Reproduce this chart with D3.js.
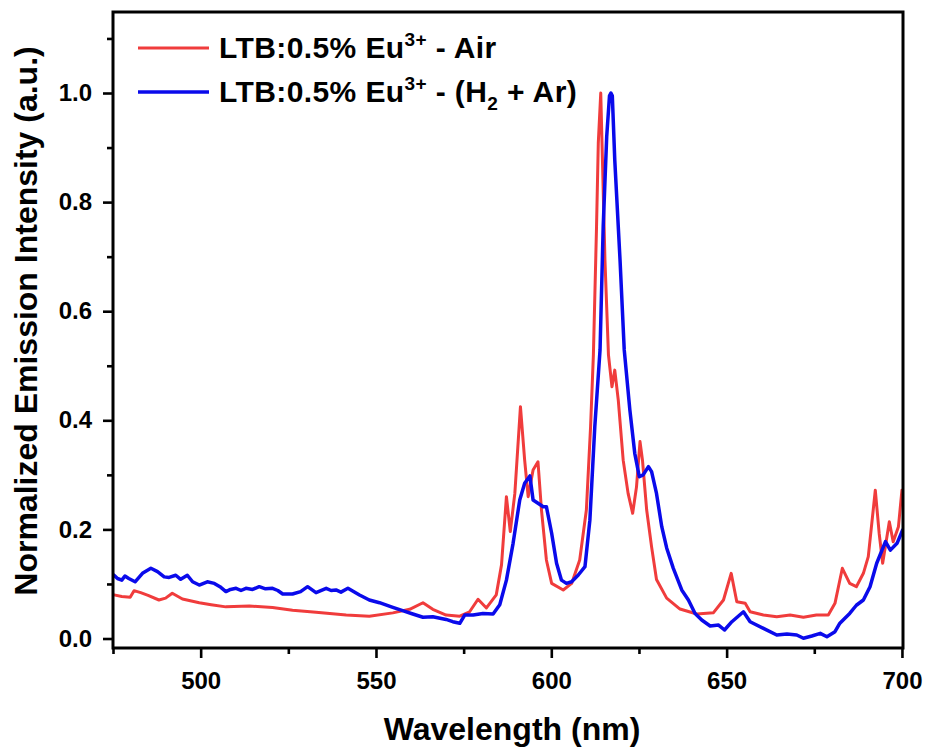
<!DOCTYPE html>
<html>
<head>
<meta charset="utf-8">
<script src="https://cdn.jsdelivr.net/npm/d3@7"></script>
<style>
  html, body { margin: 0; padding: 0; background: #ffffff; }
  svg { display: block; font-family: "Liberation Sans", Arial, sans-serif; }
</style>
</head>
<body>
<svg id="chart" width="930" height="751"></svg>
<script>
// Emission spectrum of LTB:0.5% Eu3+ annealed in air
const airWavelength = [475.3, 477.5, 479.9, 481.0, 482.9, 485.0, 488.1, 490.0, 491.9, 494.8, 499.6, 503.0, 507.2, 513.9, 520.5, 526.2, 532.9, 541.5, 548.1, 554.8, 559.6, 563.4, 566.2, 570.0, 573.9, 576.7, 579.1, 581.5, 584.3, 585.8, 587.2, 588.3, 589.6, 591.2, 592.4, 593.4, 594.8, 596.2, 597.2, 598.6, 600.1, 603.4, 605.8, 608.1, 610.0, 611.2, 612.0, 612.9, 613.4, 614.1, 615.3, 616.3, 617.3, 618.1, 619.1, 620.5, 621.9, 623.2, 624.3, 625.3, 626.0, 627.2, 628.6, 630.0, 632.9, 636.7, 641.5, 646.2, 649.1, 651.3, 652.9, 655.3, 656.7, 660.5, 664.3, 668.1, 671.9, 675.6, 679.0, 680.9, 683.0, 685.1, 687.0, 689.0, 690.4, 692.4, 693.5, 694.5, 696.4, 697.5, 699.0, 700.0];
const airIntensity = [0.080, 0.077, 0.0755, 0.0877, 0.084, 0.079, 0.0706, 0.074, 0.083, 0.0724, 0.0656, 0.062, 0.058, 0.0596, 0.057, 0.052, 0.048, 0.043, 0.041, 0.047, 0.0535, 0.0656, 0.0535, 0.043, 0.041, 0.049, 0.072, 0.056, 0.080, 0.135, 0.26, 0.196, 0.266, 0.425, 0.327, 0.26, 0.309, 0.324, 0.2355, 0.144, 0.101, 0.089, 0.101, 0.144, 0.2355, 0.388, 0.52, 0.755, 0.908, 1.0, 0.694, 0.52, 0.4615, 0.492, 0.437, 0.327, 0.266, 0.2295, 0.278, 0.361, 0.327, 0.2355, 0.168, 0.108, 0.074, 0.054, 0.045, 0.047, 0.0706, 0.1195, 0.0675, 0.0645, 0.049, 0.043, 0.040, 0.043, 0.039, 0.043, 0.043, 0.0645, 0.1287, 0.101, 0.095, 0.1195, 0.15, 0.272, 0.193, 0.138, 0.214, 0.1775, 0.205, 0.272];

// Emission spectrum of LTB:0.5% Eu3+ annealed in H2 + Ar
const h2Wavelength = [475.3, 476.3, 477.5, 478.4, 479.5, 481.3, 483.4, 485.8, 487.7, 489.6, 491.0, 492.9, 494.3, 496.2, 497.7, 499.6, 501.9, 503.9, 505.5, 507.2, 508.5, 510.1, 511.5, 512.9, 514.8, 516.7, 518.5, 520.5, 522.0, 523.4, 526.2, 528.5, 530.5, 532.9, 535.8, 537.2, 538.6, 540.0, 542.0, 545.3, 548.1, 551.0, 554.8, 557.6, 560.5, 563.4, 566.2, 570.0, 571.9, 573.9, 575.3, 577.7, 580.5, 583.4, 585.3, 587.2, 589.1, 591.0, 592.4, 593.9, 594.8, 596.2, 597.7, 598.6, 600.1, 601.5, 602.9, 604.3, 605.8, 607.7, 609.6, 611.0, 612.4, 613.9, 614.8, 615.8, 616.6, 617.0, 617.4, 618.1, 619.6, 620.8, 622.4, 623.8, 625.1, 626.2, 627.7, 628.6, 630.0, 631.5, 632.9, 634.8, 637.2, 639.1, 641.0, 642.9, 645.3, 647.7, 649.4, 651.5, 654.8, 656.7, 660.5, 664.3, 667.2, 670.0, 671.9, 674.3, 676.7, 678.6, 680.9, 682.3, 685.1, 687.0, 689.0, 690.9, 692.8, 695.3, 696.7, 698.6, 700.2];
const h2Intensity = [0.116, 0.110, 0.107, 0.1146, 0.110, 0.104, 0.1195, 0.1287, 0.1225, 0.113, 0.112, 0.116, 0.1085, 0.116, 0.104, 0.098, 0.104, 0.101, 0.095, 0.086, 0.090, 0.092, 0.088, 0.092, 0.090, 0.095, 0.091, 0.092, 0.088, 0.0816, 0.0816, 0.086, 0.095, 0.084, 0.092, 0.088, 0.089, 0.085, 0.092, 0.0797, 0.0706, 0.0656, 0.057, 0.051, 0.045, 0.039, 0.040, 0.035, 0.0308, 0.0279, 0.043, 0.043, 0.046, 0.045, 0.062, 0.107, 0.1745, 0.254, 0.2845, 0.298, 0.254, 0.248, 0.2416, 0.2416, 0.193, 0.138, 0.107, 0.101, 0.104, 0.1164, 0.1316, 0.217, 0.388, 0.529, 0.755, 0.92, 0.995, 1.0, 0.995, 0.877, 0.694, 0.529, 0.419, 0.3395, 0.2966, 0.30, 0.315, 0.306, 0.266, 0.205, 0.166, 0.1286, 0.089, 0.0706, 0.046, 0.034, 0.023, 0.0247, 0.0156, 0.0308, 0.049, 0.0308, 0.0187, 0.0064, 0.0082, 0.0064, 0.0004, 0.0046, 0.0095, 0.0033, 0.0125, 0.028, 0.046, 0.061, 0.0706, 0.095, 0.138, 0.1775, 0.162, 0.1745, 0.199];

// Axis ticks
const xMajorTicks = [500, 550, 600, 650, 700];
const xMinorTicks = [475, 525, 575, 625, 675];
const yMajorTicks = [0.0, 0.2, 0.4, 0.6, 0.8, 1.0];
const yMinorTicks = [0.1, 0.3, 0.5, 0.7, 0.9, 1.1];

const seriesColors = ["#f03c3c", "#0a0aeb"];

const svg = d3.select("#chart");
const plot = { left: 113, right: 903, top: 12, bottom: 648 };

const x = d3.scaleLinear().domain([475, 700.3]).range([plot.left, plot.right]);
const y = d3.scaleLinear().domain([-0.0174, 1.1485]).range([plot.bottom, plot.top]);

svg.append("defs").append("clipPath").attr("id", "plotClip")
  .append("rect")
  .attr("x", plot.left).attr("y", plot.top)
  .attr("width", plot.right - plot.left).attr("height", plot.bottom - plot.top);

const line = d3.line()
  .x(d => x(d[0]))
  .y(d => y(d[1]))
  .curve(d3.curveLinear);

const airData = airWavelength.map((w, i) => [w, airIntensity[i]]);
const h2Data = h2Wavelength.map((w, i) => [w, h2Intensity[i]]);

const curves = svg.append("g").attr("clip-path", "url(#plotClip)");
curves.append("path").datum(airData)
  .attr("d", line)
  .attr("fill", "none")
  .attr("stroke", seriesColors[0])
  .attr("stroke-width", 3)
  .attr("stroke-linejoin", "round")
  .attr("stroke-linecap", "round");
curves.append("path").datum(h2Data)
  .attr("d", line)
  .attr("fill", "none")
  .attr("stroke", seriesColors[1])
  .attr("stroke-width", 3.5)
  .attr("stroke-linejoin", "round")
  .attr("stroke-linecap", "round");

// Axes
function styleAxis(g) {
  g.select(".domain").remove();
  g.selectAll(".tick line").attr("stroke", "#000").attr("stroke-width", 2.6);
  g.selectAll(".tick text")
    .attr("fill", "#000")
    .style("font-size", "24px")
    .style("font-weight", "bold")
    .style("font-family", "'Liberation Sans', Arial, sans-serif");
}

svg.append("g")
  .attr("transform", `translate(0,${plot.bottom})`)
  .call(d3.axisBottom(x).tickValues(xMajorTicks).tickSize(10).tickPadding(14).tickFormat(d3.format("d")))
  .call(styleAxis);
svg.append("g")
  .attr("transform", `translate(0,${plot.bottom})`)
  .call(d3.axisBottom(x).tickValues(xMinorTicks).tickSize(6).tickFormat(""))
  .call(styleAxis);

svg.append("g")
  .attr("transform", `translate(${plot.left},0)`)
  .call(d3.axisLeft(y).tickValues(yMajorTicks).tickSize(10).tickPadding(11).tickFormat(d3.format(".1f")))
  .call(styleAxis);
svg.append("g")
  .attr("transform", `translate(${plot.left},0)`)
  .call(d3.axisLeft(y).tickValues(yMinorTicks).tickSize(6).tickFormat(""))
  .call(styleAxis);

// Frame
svg.append("rect")
  .attr("x", plot.left).attr("y", plot.top)
  .attr("width", plot.right - plot.left).attr("height", plot.bottom - plot.top)
  .attr("fill", "none")
  .attr("stroke", "#000")
  .attr("stroke-width", 3);

// Axis titles
svg.append("text")
  .attr("x", 512).attr("y", 740)
  .attr("text-anchor", "middle")
  .style("font-size", "32px").style("font-weight", "bold")
  .text("Wavelength (nm)");

svg.append("text")
  .attr("transform", "translate(37,321) rotate(-90)")
  .attr("text-anchor", "middle")
  .style("font-size", "32px").style("font-weight", "bold")
  .text("Normalized Emission Intensity (a.u.)");

// Legend
const legend = svg.append("g");
const legendRows = [
  { y: 48, color: seriesColors[0], width: 3, atmosphere: "air" },
  { y: 92, color: seriesColors[1], width: 3.5, atmosphere: "h2" }
];
legendRows.forEach(row => {
  legend.append("line")
    .attr("x1", 138).attr("x2", 209)
    .attr("y1", row.y).attr("y2", row.y)
    .attr("stroke", row.color).attr("stroke-width", row.width);
  const t = legend.append("text")
    .attr("x", 219).attr("y", row.y + 10)
    .style("font-size", "30px").style("font-weight", "bold")
    .style("letter-spacing", "0.4px");
  t.append("tspan").text("LTB:0.5% Eu");
  t.append("tspan").attr("dy", -12).style("font-size", "19px").text("3+");
  if (row.atmosphere === "air") {
    t.append("tspan").attr("dy", 12).text(" - Air");
  } else {
    t.append("tspan").attr("dy", 12).text(" - (H");
    t.append("tspan").attr("dy", 8).style("font-size", "19px").text("2");
    t.append("tspan").attr("dy", -8).text(" + Ar)");
  }
});
</script>
</body>
</html>
